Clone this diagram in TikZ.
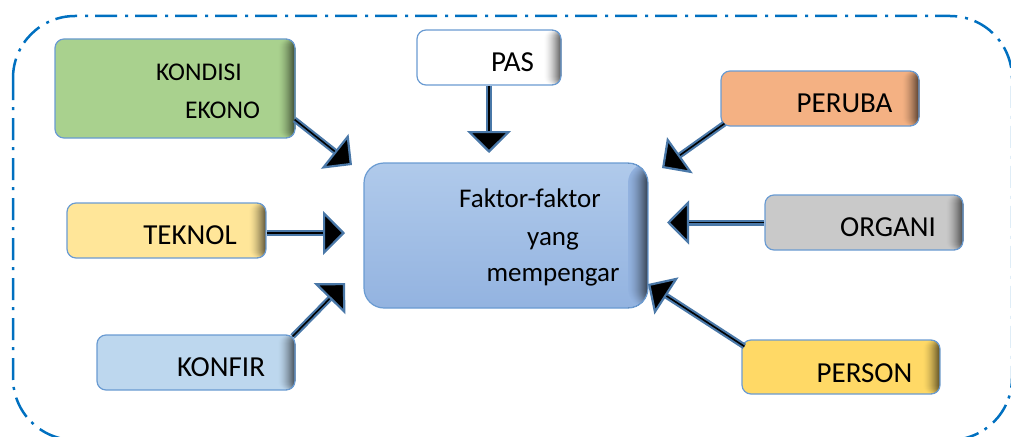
\documentclass[tikz,border=0pt]{standalone}
\usepackage{fontspec}
\setmainfont{Carlito}
\usetikzlibrary{arrows.meta,calc}
\definecolor{framecol}{HTML}{0070C0}
\definecolor{edgecol}{HTML}{6A9BD2}
\definecolor{shaftcol}{HTML}{4A78A8}
\definecolor{greenfill}{HTML}{A9D18E}
\definecolor{orangefill}{HTML}{F4B183}
\definecolor{grayfill}{HTML}{C9C9C9}
\definecolor{goldfill}{HTML}{FFD966}
\definecolor{creamfill}{HTML}{FFE699}
\definecolor{skyfill}{HTML}{BDD7EE}
\definecolor{midtop}{HTML}{B0CAEB}
\definecolor{midbot}{HTML}{93B3E0}
\begin{document}
\begin{tikzpicture}[x=1pt,y=-1pt,
  % darkening band along the right edge, built from overlapping strips
  rightshade/.style 2 args={path picture={
    \foreach \k in {1,...,#2}{
      \pgfmathsetmacro\mix{100-60*(\k/#2)^1.6}
      \fill[#1!\mix!black]
        ([xshift={(\k-#2-1)*1pt}]path picture bounding box.north east)
        rectangle (path picture bounding box.south east);
    }}},
  box/.style={rounded corners=9pt, draw=edgecol, line width=1.2pt, fill=#1,
    minimum height=55pt, inner sep=0pt, rightshade={#1}{17}},
  hub/.style={rounded corners=20pt, draw=edgecol, line width=1.2pt,
    top color=midtop, bottom color=midbot, minimum width=284pt,
    minimum height=145pt, inner sep=0pt, rightshade={midbot}{20}},
  lbl/.style={font=\fontsize{29}{32}\selectfont, inner sep=0pt, text=black,
    anchor=base},
  lblsmall/.style={lbl, font=\fontsize{25.5}{28}\selectfont},
  lblhub/.style={lbl, font=\fontsize{27}{30}\selectfont},
  arr/.style={draw=shaftcol, line width=6pt,
    -{Triangle[length=22pt,width=44pt,fill=black,line width=2.2pt]}},
  core/.style={draw=black, line width=1.6pt, shorten >=22pt}]
\useasboundingbox (0,0) rectangle (1011,436);
\clip (0,0) rectangle (1011,436);

% dash-dot outer frame
\draw[framecol, line width=2.5pt, dash pattern=on 22pt off 7pt on 3pt off 8pt,
  rounded corners=62pt] (13,16) rectangle (1012,440);

% boxes
\node[box=greenfill, minimum width=240pt, minimum height=99pt] (kond) at (175,88.5) {};
\node[box=white, minimum width=144pt] (pas) at (489,57.5) {};
\node[box=orangefill, minimum width=198pt] (peruba) at (820,98.5) {};
\node[box=grayfill, minimum width=198pt] (organi) at (864,222.5) {};
\node[box=goldfill, minimum width=198pt, minimum height=54pt] (person) at (841,367) {};
\node[box=creamfill, minimum width=199pt] (teknol) at (166.5,230.5) {};
\node[box=skyfill, minimum width=198pt] (konfir) at (196,362.5) {};
\node[hub] (hub) at (506,235.5) {};

% labels
\node[lblsmall] (kondA) at (199,80) {KONDISI};
\node[lblsmall] (kondB) at (222.5,118) {EKONO};
\node[lbl] (pasT) at (512.5,71) {PAS};
\node[lbl] (perubaT) at (844.5,112) {PERUBA};
\node[lbl] (organiT) at (888,236) {ORGANI};
\node[lbl] (personT) at (864.5,382) {PERSON};
\node[lbl] (teknolT) at (190,244) {TEKNOL};
\node[lbl] (konfirT) at (221,376) {KONFIR};
\node[lblhub] (hubA) at (530,207) {Faktor-faktor};
\node[lblhub] (hubB) at (553,245) {yang};
\node[lblhub] (hubC) at (553,281) {mempengar};

% arrow tails on the outer boxes
\coordinate (sK) at ($(kond.south east)+(-1,-19)$);
\coordinate (sP) at (pas.south);
\coordinate (sR) at ($(peruba.south west)+(4,-3)$);
\coordinate (sO) at (organi.west);
\coordinate (sS) at ($(person.north west)+(3,7)$);
\coordinate (sT) at ($(teknol.east)+(0,2.5)$);
\coordinate (sF) at ($(konfir.north east)+(-3,2)$);

% arrow tips near the central box
\coordinate (tK) at (352,165);
\coordinate (tP) at (489,153);
\coordinate (tR) at (662,168);
\coordinate (tO) at (667,222.5);
\coordinate (tS) at (648,284);
\coordinate (tT) at (345,233);
\coordinate (tF) at (345,283);

% connectors
\foreach \s/\t in {sK/tK, sP/tP, sR/tR, sO/tO, sS/tS, sT/tT, sF/tF}{
  \draw[arr] (\s) -- (\t);
  \draw[core] (\s) -- (\t);
}
\end{tikzpicture}
\end{document}
